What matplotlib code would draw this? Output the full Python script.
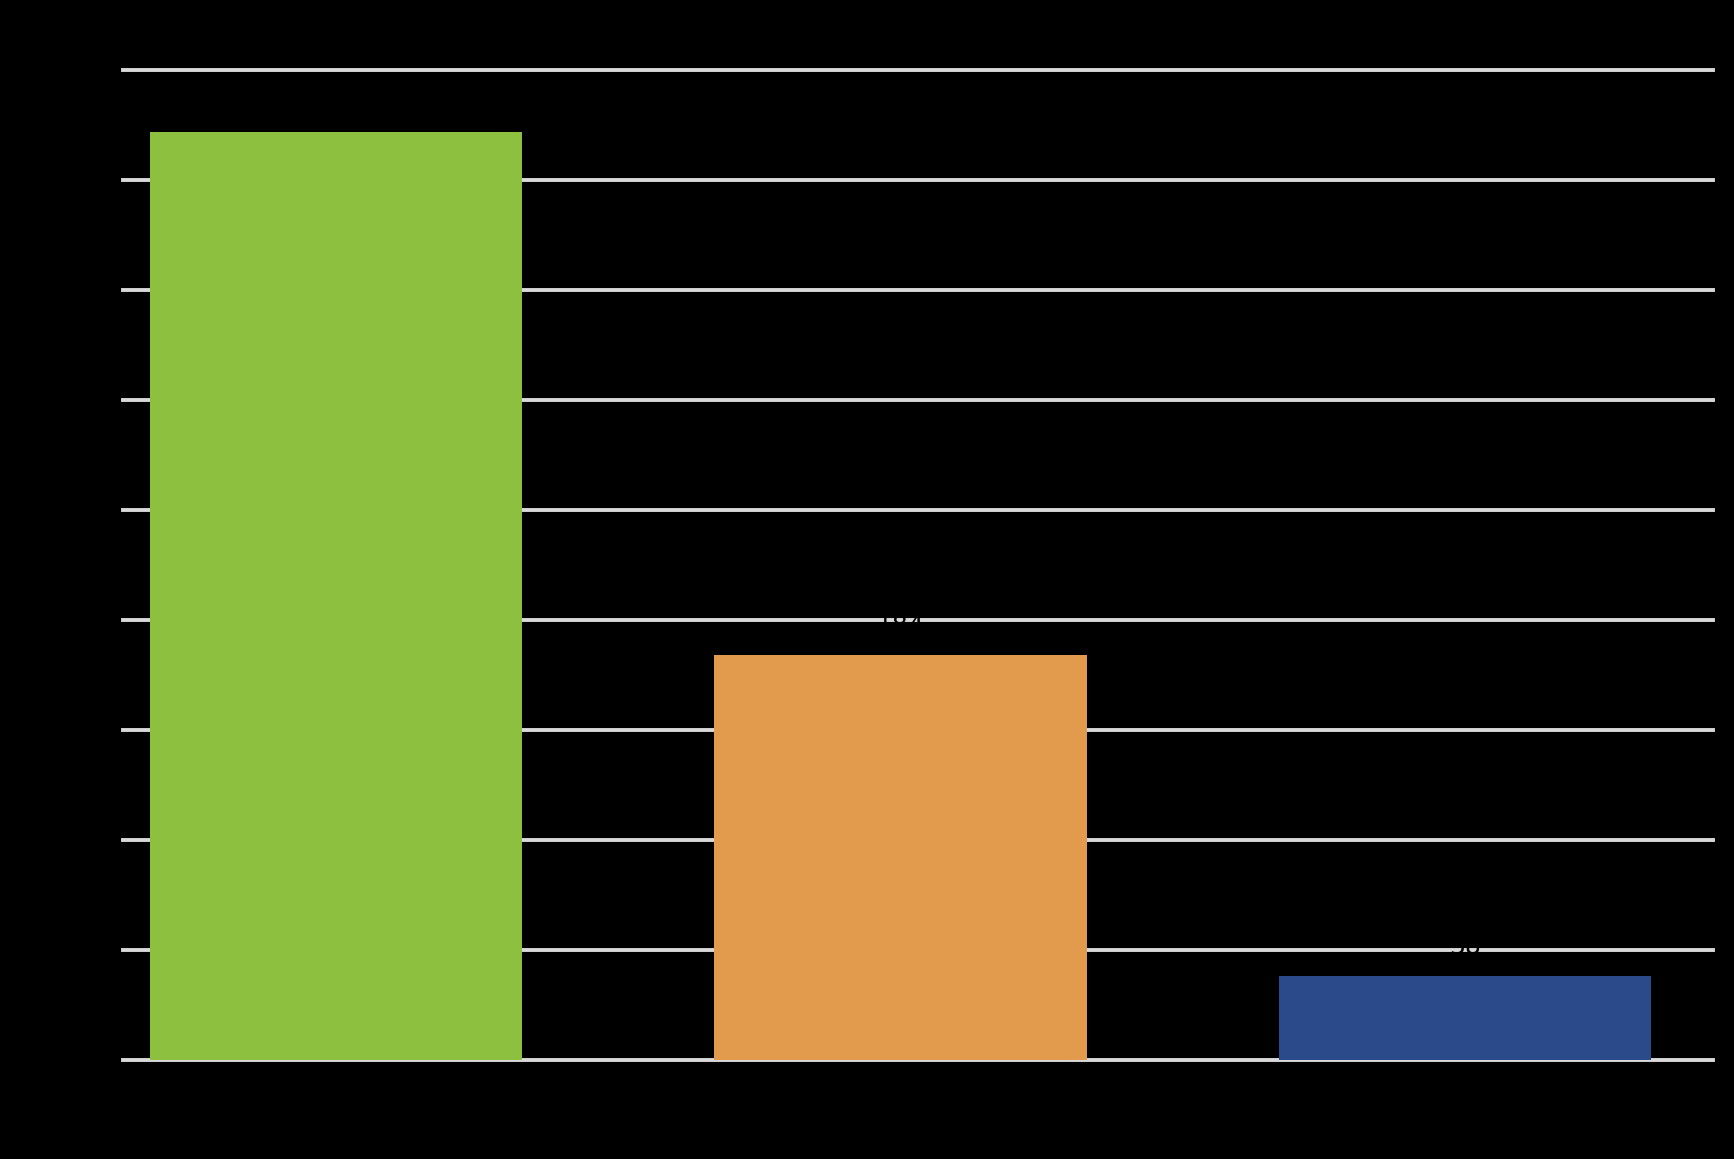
import matplotlib.pyplot as plt
import numpy as np

# Données
categories = ["A", "B", "C"]
valeurs = [422, 184, 38]
couleurs = ["#8DC03F", "#E29B4C", "#2A4A8A"]
yticks = [0, 50, 100, 150, 200, 250, 300, 350, 400, 450]

fig = plt.figure(figsize=(17.34, 11.59), dpi=100, facecolor="black")
ax = fig.add_axes([0.0709, 0.0854, 0.9171, 0.8542], facecolor="black")

x = np.arange(len(categories))
barres = ax.bar(x, valeurs, width=0.66, color=couleurs, zorder=3)

# Étiquettes de valeurs (noires, comme l'original)
for xi, v in zip(x, valeurs):
    ax.text(xi, v + 8, str(v), ha="center", va="bottom", fontsize=18, color="black", zorder=4)

ax.set_xlim(-0.378, 2.44)
ax.set_ylim(0, 450)
ax.set_yticks(yticks)
ax.set_yticklabels([str(t) for t in yticks], color="black", fontsize=14)
ax.set_xticks(x)
ax.set_xticklabels(categories, color="black", fontsize=14)
ax.tick_params(length=0)

ax.yaxis.grid(True, color="#d9d9d9", linewidth=2.8, zorder=0)
ax.set_axisbelow(True)
for s in ax.spines.values():
    s.set_visible(False)
for gl in ax.yaxis.get_gridlines():
    gl.set_clip_on(False)

fig.savefig("out.png", dpi=100, facecolor="black")
